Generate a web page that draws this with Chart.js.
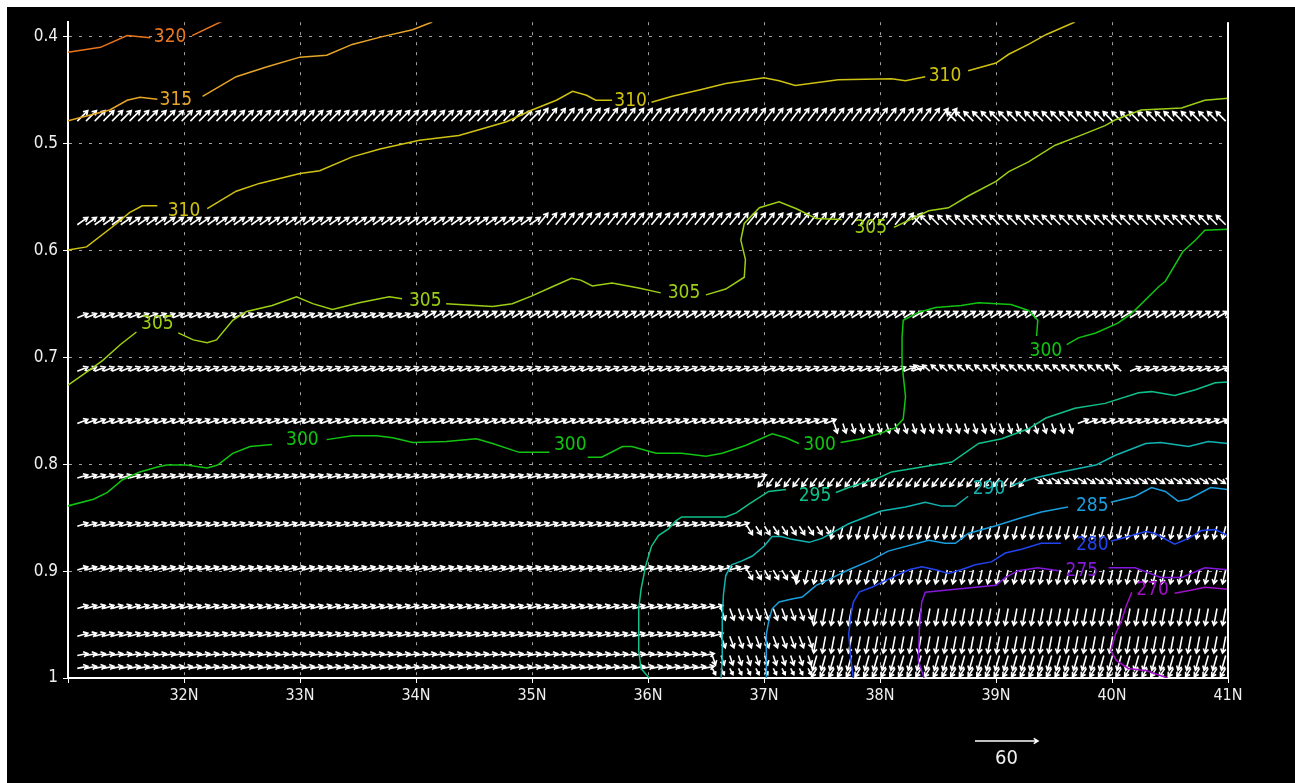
<!DOCTYPE html>
<html>
<head>
<meta charset="utf-8">
<script src="https://cdn.jsdelivr.net/npm/chart.js@4.4.1/dist/chart.umd.min.js"></script>
<style>
  html, body { margin: 0; padding: 0; background: #fff; }
  #wrap { position: absolute; left: 7px; top: 7px; width: 1288px; height: 776px; background: #000; }
</style>
</head>
<body>
<div id="wrap"><canvas id="xsec" width="1288" height="776"></canvas></div>
<script>
Chart.defaults.font.family = "'DejaVu Sans Condensed', 'Liberation Sans Narrow', 'DejaVu Sans', sans-serif"
Chart.defaults.color = "#f0f0f0"

const latTicks = [31, 32, 33, 34, 35, 36, 37, 38, 39, 40, 41]
const sigmaTicks = [0.4, 0.5, 0.6, 0.7, 0.8, 0.9, 1.0]

// theta contours, [lat, sigma]
const th320 = [[31.0,0.4146],[31.28,0.410],[31.51,0.399],[31.71,0.401],[31.88,0.400],[32.07,0.399],[32.34,0.385]]
const th315 = [[31.0,0.4787],[31.36,0.4686],[31.51,0.4595],[31.62,0.4567],[31.77,0.4586],[31.93,0.4595],[32.16,0.4558],
    [32.45,0.4375],[32.71,0.4284],[33.0,0.4192],[33.23,0.4174],[33.45,0.4073],[33.71,0.400],[33.97,0.3936],[34.14,0.3863]]
const th310 = [[31.0,0.5995],[31.16,0.5967],[31.42,0.5748],[31.53,0.5647],[31.64,0.5583],[31.77,0.5583],[32.0,0.563],
    [32.20,0.561],[32.45,0.5446],[32.65,0.5373],[33.0,0.528],[33.17,0.5254],[33.45,0.5125],[33.69,0.5052],[34.03,0.497],
    [34.37,0.4924],[34.55,0.4869],[34.78,0.4796],[35.0,0.4686],[35.21,0.4595],[35.35,0.4512],[35.47,0.4549],[35.55,0.4595],
    [35.69,0.4595],[35.85,0.4604],[36.03,0.4613],[36.21,0.4558],[36.46,0.4494],[36.67,0.4439],[37.0,0.4384],[37.13,0.4412],
    [37.27,0.4457],[37.64,0.4403],[38.10,0.4393],[38.22,0.4412],[38.39,0.4375],[38.56,0.4366],[38.76,0.432],[39.0,0.4247],
    [39.11,0.4165],[39.28,0.4073],[39.43,0.3982],[39.68,0.3863]]
const th305 = [[31.0,0.726],[31.16,0.7138],[31.30,0.7029],[31.45,0.6882],[31.59,0.6763],[31.77,0.669],[31.95,0.6772],
    [32.08,0.6837],[32.20,0.6864],[32.28,0.6837],[32.42,0.6654],[32.54,0.6571],[32.76,0.6516],[32.97,0.6434],[33.11,0.6498],
    [33.28,0.6553],[33.51,0.6489],[33.77,0.6434],[33.88,0.6452],[34.08,0.647],[34.26,0.6498],[34.66,0.6525],[34.83,0.6498],
    [35.0,0.6425],[35.17,0.6342],[35.34,0.626],[35.42,0.6278],[35.52,0.6333],[35.69,0.6306],[35.92,0.6352],[36.11,0.6397],
    [36.31,0.6397],[36.50,0.6416],[36.67,0.6361],[36.83,0.6251],[36.84,0.6086],[36.80,0.5903],[36.83,0.5748],[36.96,0.5601],
    [37.13,0.5546],[37.28,0.561],[37.45,0.5702],[37.67,0.5711],[37.92,0.5793],[38.12,0.5784],[38.42,0.5629],[38.59,0.5601],
    [38.76,0.5491],[39.0,0.5354],[39.11,0.5263],[39.28,0.5171],[39.51,0.5016],[39.73,0.4924],[39.94,0.4833],[40.03,0.4778],
    [40.25,0.4686],[40.60,0.4668],[40.80,0.4595],[41.0,0.4576]]
const th300 = [[31.0,0.839],[31.22,0.8328],[31.34,0.8264],[31.47,0.8145],[31.62,0.8072],[31.77,0.8026],[31.85,0.8008],
    [32.02,0.8008],[32.20,0.8035],[32.29,0.8008],[32.42,0.7898],[32.57,0.7834],[32.76,0.7816],[33.02,0.777],[33.23,0.777],
    [33.45,0.7733],[33.66,0.7733],[33.80,0.7752],[33.97,0.7797],[34.26,0.7788],[34.52,0.7761],[34.66,0.7806],[34.89,0.7889],
    [35.15,0.7889],[35.33,0.7825],[35.48,0.7935],[35.60,0.7935],[35.78,0.7834],[35.86,0.7834],[36.07,0.7898],[36.29,0.7898],
    [36.50,0.7925],[36.64,0.7898],[36.84,0.7825],[37.07,0.7715],[37.19,0.7752],[37.30,0.7806],[37.48,0.7825],[37.66,0.7797],
    [37.84,0.7761],[37.99,0.7715],[38.13,0.766],[38.20,0.7578],[38.22,0.7367],[38.19,0.7065],[38.19,0.6818],[38.20,0.6654],
    [38.33,0.658],[38.48,0.6535],[38.70,0.6516],[38.85,0.6489],[39.13,0.6507],[39.28,0.6562],[39.36,0.6654],[39.35,0.680],
    [39.43,0.6937],[39.61,0.6882],[39.71,0.6818],[39.86,0.6772],[40.05,0.6681],[40.17,0.6589],[40.40,0.6342],[40.46,0.6288],
    [40.61,0.6013],[40.72,0.5903],[40.80,0.5812],[41.0,0.5803]]
const th295 = [[36.01,1.0],[35.94,0.9911],[35.92,0.9746],[35.92,0.9353],[35.94,0.917],[35.98,0.895],[36.03,0.8767],
    [36.09,0.8667],[36.18,0.8602],[36.24,0.8529],[36.29,0.8493],[36.67,0.8493],[36.76,0.8456],[36.87,0.8374],[37.04,0.8255],
    [37.19,0.8236],[37.44,0.830],[37.62,0.8264],[37.73,0.8218],[37.99,0.8127],[38.10,0.8072],[38.31,0.8035],[38.62,0.798],
    [38.85,0.7806],[39.05,0.7761],[39.28,0.7669],[39.43,0.7568],[39.68,0.7477],[39.94,0.7431],[40.23,0.7331],[40.34,0.7321],
    [40.54,0.7358],[40.72,0.7303],[40.89,0.7239],[41.0,0.723]]
const th290 = [[36.63,1.0],[36.64,0.9838],[36.64,0.9472],[36.65,0.9225],[36.67,0.9042],[36.72,0.8941],[36.81,0.8904],
    [36.90,0.8859],[37.0,0.8767],[37.07,0.8676],[37.15,0.8676],[37.24,0.8703],[37.39,0.8731],[37.50,0.8694],[37.73,0.8557],
    [37.90,0.8484],[38.01,0.8438],[38.22,0.8401],[38.39,0.8355],[38.53,0.8392],[38.65,0.8392],[38.76,0.830],[38.94,0.8237],
    [39.13,0.820],[39.34,0.8127],[39.56,0.8072],[39.86,0.8008],[40.03,0.7916],[40.29,0.7806],[40.42,0.7797],[40.66,0.7834],
    [40.83,0.7788],[41.0,0.7806]]
const th285 = [[37.02,1.0],[37.02,0.9838],[37.02,0.9591],[37.04,0.9472],[37.07,0.9353],[37.13,0.9289],[37.24,0.9261],
    [37.33,0.9243],[37.45,0.9133],[37.56,0.9078],[37.73,0.8987],[37.93,0.8895],[38.07,0.8813],[38.42,0.8712],[38.56,0.874],
    [38.65,0.874],[38.76,0.8648],[39.0,0.8575],[39.19,0.8511],[39.39,0.8447],[39.62,0.8401],[39.83,0.8392],[39.99,0.8355],
    [40.20,0.830],[40.34,0.8218],[40.46,0.8255],[40.57,0.8346],[40.66,0.8328],[40.85,0.8218],[41.0,0.8237]]
const th280 = [[37.77,1.0],[37.75,0.9838],[37.73,0.9591],[37.75,0.9408],[37.77,0.9289],[37.82,0.9197],[37.93,0.9151],
    [38.07,0.9078],[38.25,0.8987],[38.36,0.8959],[38.48,0.8987],[38.59,0.9023],[38.70,0.8987],[38.82,0.8941],[38.96,0.8914],
    [39.08,0.8831],[39.22,0.8795],[39.39,0.874],[39.56,0.874],[39.83,0.8758],[39.99,0.8721],[40.14,0.8676],[40.29,0.863],
    [40.37,0.8648],[40.54,0.8749],[40.66,0.8694],[40.77,0.8621],[40.89,0.8612],[41.0,0.8667]]
const th275 = [[38.38,1.0],[38.33,0.9838],[38.34,0.9536],[38.36,0.9289],[38.39,0.9197],[38.65,0.917],[39.0,0.9133],
    [39.08,0.906],[39.19,0.8996],[39.36,0.8968],[39.54,0.8996],[39.74,0.8996],[39.97,0.8968],[40.20,0.8968],[40.31,0.9014],
    [40.42,0.906],[40.60,0.906],[40.80,0.8968],[41.0,0.8987]]
const th270 = [[40.48,1.0],[40.29,0.993],[40.14,0.9911],[40.04,0.9838],[39.99,0.9746],[40.03,0.9591],[40.08,0.9472],
    [40.12,0.9334],[40.17,0.9197],[40.35,0.918],[40.54,0.9207],[40.68,0.918],[40.80,0.9151],[41.0,0.917]]

// latitudes where a label sits on each contour
const th320Lab = [31.88]
const th315Lab = [31.93]
const th310Lab = [32.0, 35.85, 38.56]
const th305Lab = [31.77, 34.08, 36.31, 37.92]
const th300Lab = [33.02, 35.33, 37.48, 39.43]
const th295Lab = [37.44]
const th290Lab = [38.94]
const th285Lab = [39.83]
const th280Lab = [39.83]
const th275Lab = [39.74]
const th270Lab = [40.35]

const levels = [320, 315, 310, 305, 300, 295, 290, 285, 280, 275, 270]
const levelColors = ["#e8761e", "#e6a526", "#cfc210", "#9ccf14", "#10c410", "#10c08a", "#10b4b0", "#1a9ede", "#2244f0", "#8418dc", "#a010c8"]
const contourLines = [th320, th315, th310, th305, th300, th295, th290, th285, th280, th275, th270]
const contourLabs = [th320Lab, th315Lab, th310Lab, th305Lab, th300Lab, th295Lab, th290Lab, th285Lab, th280Lab, th275Lab, th270Lab]

// wind vectors: sigma of each row and runs of [to-lat, u, w] along it
const vecSigma = [0.479, 0.576, 0.663, 0.713, 0.762, 0.813, 0.858, 0.899, 0.935, 0.961, 0.979, 0.991]
const vecRow1 = [[33.0, 10, 10], [35.0, 10, 10], [38.6, 9, 12], [41, -9, 9]]
const vecRow2 = [[35.0, 10, 7], [38.3, 9, 11], [41, -9, 9]]
const vecRow3 = [[34.0, 10, 4], [41, 10, 6]]
const vecRow4 = [[38.3, 10, 4], [40.1, -7, 6], [41, 10, 4]]
const vecRow5 = [[37.6, 10, 4], [39.7, 3, -9], [41, 10, 4]]
const vecRow6 = [[37.0, 10, 3], [39.3, -6, -8], [41, 8, -5]]
const vecRow7 = [[36.8, 10, 3], [37.6, 5, -8], [41, -3, -12]]
const vecRow8 = [[36.8, 10, 3], [37.3, 5, -9], [41, -3, -13]]
const vecRow9 = [[36.6, 10, 3], [37.4, 4, -11], [41, -3, -16]]
const vecRow10 = [[36.6, 10, 3], [37.4, 4, -11], [41, -3, -16]]
const vecRow11 = [[36.5, 10, 2], [37.4, 3, -9], [41, -4, -14]]
const vecRow12 = [[36.5, 10, 2], [37.4, 3, -6], [41, -5, -8]]
const vecRows = [vecRow1, vecRow2, vecRow3, vecRow4, vecRow5, vecRow6, vecRow7, vecRow8, vecRow9, vecRow10, vecRow11, vecRow12]
const refVector = 60

// model grid along the section
const gridLats = []
for (let i = 0; i < 133; i++) gridLats.push(31.08 + i * 0.075)

const vecPx = 63 / 60   // pixels per m/s

function drawArrow(ctx, x0, y0, dx, dy) {
    const len = Math.hypot(dx, dy)
    if (len < 0.5) return
    const x1 = x0 + dx, y1 = y0 + dy
    const h = Math.min(5, len * 0.5)
    const a = Math.atan2(dy, dx)
    ctx.moveTo(x0, y0)
    ctx.lineTo(x1, y1)
    ctx.moveTo(x1 - h * Math.cos(a - 0.55), y1 - h * Math.sin(a - 0.55))
    ctx.lineTo(x1, y1)
    ctx.lineTo(x1 - h * Math.cos(a + 0.55), y1 - h * Math.sin(a + 0.55))
}

const vectorPlugin = {
    id: 'vectors',
    beforeDatasetsDraw(chart) {
        const ctx = chart.ctx
        const xs = chart.scales.x, ys = chart.scales.y
        const area = chart.chartArea
        ctx.save()
        ctx.beginPath()
        ctx.rect(area.left, area.top, area.right - area.left, area.bottom - area.top)
        ctx.clip()
        ctx.strokeStyle = '#ffffff'
        ctx.lineWidth = 1.6
        ctx.beginPath()
        vecRows.forEach((runs, r) => {
            const py = ys.getPixelForValue(vecSigma[r])
            for (const lat of gridLats) {
                const run = runs.find(s => lat <= s[0]) || runs[runs.length - 1]
                const px = xs.getPixelForValue(lat)
                drawArrow(ctx, px, py, run[1] * vecPx, -run[2] * vecPx)
            }
        })
        ctx.stroke()
        ctx.restore()
    },
    afterDatasetsDraw(chart) {
        const ctx = chart.ctx
        const xs = chart.scales.x, ys = chart.scales.y
        const area = chart.chartArea
        ctx.save()
        // contour labels
        ctx.font = "19px 'DejaVu Sans Condensed', 'DejaVu Sans', sans-serif"
        ctx.textAlign = 'center'
        ctx.textBaseline = 'middle'
        contourLines.forEach((pts, i) => {
            ctx.fillStyle = levelColors[i]
            for (const lat of contourLabs[i]) {
                const p = pts.find(q => q[0] === lat)
                ctx.fillText(String(levels[i]), xs.getPixelForValue(p[0]), ys.getPixelForValue(p[1]))
            }
        })
        // frame
        ctx.strokeStyle = '#ffffff'
        ctx.lineWidth = 2
        ctx.beginPath()
        ctx.moveTo(area.right, area.top)
        ctx.lineTo(area.right, area.bottom)
        ctx.stroke()
        // reference vector
        const x0 = area.right - 253, y0 = area.bottom + 63
        ctx.lineWidth = 1.5
        ctx.beginPath()
        drawArrow(ctx, x0, y0, refVector * vecPx, 0)
        ctx.stroke()
        ctx.fillStyle = '#f0f0f0'
        ctx.font = "20px 'DejaVu Sans Condensed', 'DejaVu Sans', sans-serif"
        ctx.fillText(String(refVector), x0 + refVector * vecPx / 2, y0 + 18)
        ctx.restore()
    }
}

const datasets = contourLines.map((pts, i) => {
    const labIdx = new Set(contourLabs[i].map(lat => pts.findIndex(q => q[0] === lat)))
    return {
        label: String(levels[i]),
        data: pts.map(p => ({x: p[0], y: p[1]})),
        showLine: true,
        borderColor: levelColors[i],
        borderWidth: 1.5,
        pointRadius: 0,
        tension: 0,
        segment: {
            borderColor: c => (labIdx.has(c.p0DataIndex) || labIdx.has(c.p1DataIndex)) ? 'rgba(0,0,0,0)' : levelColors[i]
        }
    }
})

const chart = new Chart(document.getElementById('xsec'), {
    type: 'scatter',
    data: { datasets: datasets },
    plugins: [vectorPlugin],
    options: {
        responsive: false,
        animation: false,
        devicePixelRatio: 1,
        layout: { padding: { top: 0, left: 0, right: 67, bottom: 0 } },
        plugins: { legend: { display: false }, tooltip: { enabled: false } },
        scales: {
            x: {
                type: 'linear',
                min: 31,
                max: 41,
                afterBuildTicks: s => { s.ticks = latTicks.map(v => ({value: v})) },
                afterFit: s => { s.height = 105 },
                ticks: {
                    color: '#f0f0f0',
                    font: { size: 16 },
                    padding: 3,
                    maxRotation: 0,
                    callback: v => v === 31 ? '' : v + 'N'
                },
                grid: { color: '#a0a0a0', lineWidth: 1, tickLength: 5, tickColor: '#ffffff' },
                border: { color: '#ffffff', width: 2, dash: [3, 7] }
            },
            y: {
                type: 'linear',
                reverse: true,
                min: 0.3865,
                max: 1.0,
                afterBuildTicks: s => { s.ticks = sigmaTicks.map(v => ({value: v})) },
                afterFit: s => { s.width = 61 },
                ticks: {
                    color: '#f0f0f0',
                    font: { size: 17 },
                    padding: 5,
                    callback: v => v === 1 ? '1' : v.toFixed(1)
                },
                grid: { color: '#a0a0a0', lineWidth: 1, tickLength: 5, tickColor: '#ffffff' },
                border: { color: '#ffffff', width: 2, dash: [3, 7] }
            }
        }
    }
})
</script>
</body>
</html>
